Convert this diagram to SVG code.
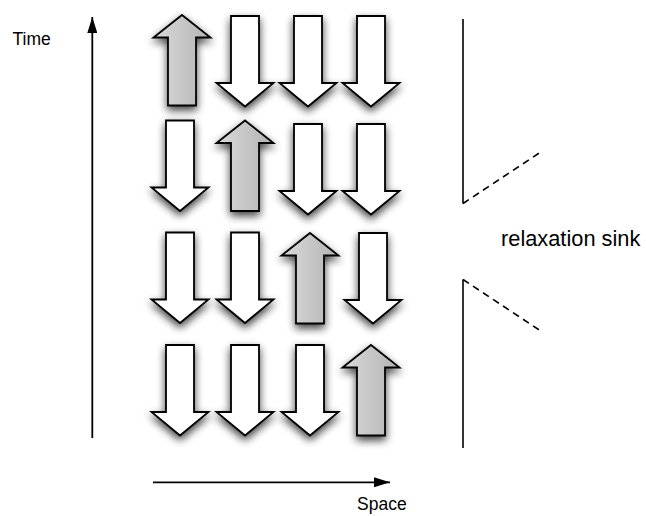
<svg xmlns="http://www.w3.org/2000/svg" xmlns:xlink="http://www.w3.org/1999/xlink" width="646" height="516" viewBox="0 0 646 516">
  <style>
    .lbl { font-family: "Liberation Sans", Arial, Helvetica, sans-serif; fill: #000; }
    .down { fill: #ffffff; stroke: #000; stroke-width: 1.8; stroke-linejoin: miter; }
    .up { fill: url(#gray); stroke: #000; stroke-width: 1.8; stroke-linejoin: miter; }
    .axis { stroke: #000; stroke-width: 1.8; fill: none; }
    .wall { stroke: #000; stroke-width: 1.6; fill: none; }
    .dash { stroke: #000; stroke-width: 1.6; fill: none; stroke-dasharray: 7 5; }
  </style>
  <defs>
    <linearGradient id="gray" x1="0" y1="0" x2="1" y2="0">
      <stop offset="0" stop-color="#dadada"/>
      <stop offset="1" stop-color="#b3b3b3"/>
    </linearGradient>
    <filter id="shadow" x="-40%" y="-30%" width="180%" height="170%">
      <feGaussianBlur in="SourceAlpha" stdDeviation="4"/>
      <feOffset dx="0" dy="4" result="b"/>
      <feComponentTransfer><feFuncA type="linear" slope="0.75"/></feComponentTransfer>
      <feMerge><feMergeNode/><feMergeNode in="SourceGraphic"/></feMerge>
    </filter>
    <path id="downArrow" d="M-14,0 H14 V67 H28.5 L0,90.5 L-28.5,67 H-14 Z"/>
    <path id="upArrow" d="M0,0 L28.5,22.5 H14 V90.5 H-14 V22.5 H-28.5 Z"/>
    <marker id="head" viewBox="0 0 16 10" refX="16" refY="5" markerWidth="16" markerHeight="10" markerUnits="userSpaceOnUse" orient="auto">
      <path d="M0,0 L16,5 L0,10 Z" fill="#000"/>
    </marker>
  </defs>

  <rect width="646" height="516" fill="#ffffff"/>

  <!-- Row 1 -->
  <g id="r1c1" filter="url(#shadow)"><use xlink:href="#upArrow" class="up" transform="translate(182,15)"/></g>
  <g id="r1c2" filter="url(#shadow)"><use xlink:href="#downArrow" class="down" transform="translate(245,16)"/></g>
  <g id="r1c3" filter="url(#shadow)"><use xlink:href="#downArrow" class="down" transform="translate(308,16)"/></g>
  <g id="r1c4" filter="url(#shadow)"><use xlink:href="#downArrow" class="down" transform="translate(371,16)"/></g>

  <!-- Row 2 -->
  <g id="r2c1" filter="url(#shadow)"><use xlink:href="#downArrow" class="down" transform="translate(180,120.5)"/></g>
  <g id="r2c2" filter="url(#shadow)"><use xlink:href="#upArrow" class="up" transform="translate(245,120.5)"/></g>
  <g id="r2c3" filter="url(#shadow)"><use xlink:href="#downArrow" class="down" transform="translate(308,124)"/></g>
  <g id="r2c4" filter="url(#shadow)"><use xlink:href="#downArrow" class="down" transform="translate(371,124)"/></g>

  <!-- Row 3 -->
  <g id="r3c1" filter="url(#shadow)"><use xlink:href="#downArrow" class="down" transform="translate(180,232.5)"/></g>
  <g id="r3c2" filter="url(#shadow)"><use xlink:href="#downArrow" class="down" transform="translate(245,232.5)"/></g>
  <g id="r3c3" filter="url(#shadow)"><use xlink:href="#upArrow" class="up" transform="translate(310,233)"/></g>
  <g id="r3c4" filter="url(#shadow)"><use xlink:href="#downArrow" class="down" transform="translate(373,233)"/></g>

  <!-- Row 4 -->
  <g id="r4c1" filter="url(#shadow)"><use xlink:href="#downArrow" class="down" transform="translate(180,345)"/></g>
  <g id="r4c2" filter="url(#shadow)"><use xlink:href="#downArrow" class="down" transform="translate(245,345)"/></g>
  <g id="r4c3" filter="url(#shadow)"><use xlink:href="#downArrow" class="down" transform="translate(310,345)"/></g>
  <g id="r4c4" filter="url(#shadow)"><use xlink:href="#upArrow" class="up" transform="translate(371,345)"/></g>

  <!-- Axes and sink walls -->
  <g id="connectors">
    <line class="axis" x1="92.3" y1="438" x2="92.3" y2="17" marker-end="url(#head)"/>
    <line class="axis" x1="153" y1="482.3" x2="390" y2="482.3" marker-end="url(#head)"/>
    <polyline class="wall" points="463,19 463,203.5"/>
    <line class="dash" x1="463" y1="203.5" x2="540" y2="152.5"/>
    <polyline class="wall" points="463,448 463,279.5"/>
    <line class="dash" x1="463" y1="279.5" x2="540" y2="330.5"/>
  </g>

  <g id="labels">
    <text class="lbl" x="12.5" y="45" font-size="17.5">Time</text>
    <text class="lbl" x="357" y="510" font-size="17.5">Space</text>
    <text class="lbl" x="501" y="246" font-size="21.8">relaxation sink</text>
  </g>
</svg>
